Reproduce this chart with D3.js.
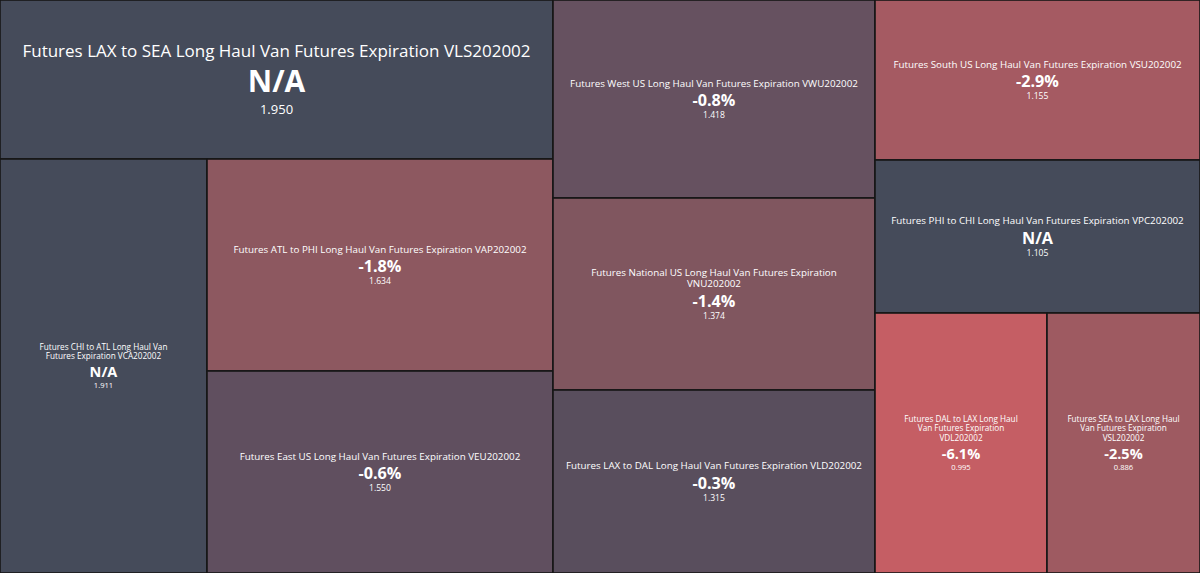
<!DOCTYPE html>
<html>
<head>
<meta charset="utf-8">
<script src="https://cdn.jsdelivr.net/npm/d3@7"></script>
<style>
  html, body { margin: 0; padding: 0; background: #1b1b1b; overflow: hidden; }
  svg { display: block; }
  text { font-family: "Segoe UI", "Open Sans", sans-serif; fill: #ffffff; }
</style>
</head>
<body>
<div id="chart"></div>
<script>
// Contracts, last price and change in percent (null = no change available)
const contracts = [
  'Futures LAX to SEA Long Haul Van Futures Expiration VLS202002',
  'Futures CHI to ATL Long Haul Van Futures Expiration VCA202002',
  'Futures ATL to PHI Long Haul Van Futures Expiration VAP202002',
  'Futures East US Long Haul Van Futures Expiration VEU202002',
  'Futures West US Long Haul Van Futures Expiration VWU202002',
  'Futures National US Long Haul Van Futures Expiration VNU202002',
  'Futures LAX to DAL Long Haul Van Futures Expiration VLD202002',
  'Futures South US Long Haul Van Futures Expiration VSU202002',
  'Futures PHI to CHI Long Haul Van Futures Expiration VPC202002',
  'Futures DAL to LAX Long Haul Van Futures Expiration VDL202002',
  'Futures SEA to LAX Long Haul Van Futures Expiration VSL202002'
];
const prices = [1.950, 1.911, 1.634, 1.550, 1.418, 1.374, 1.315, 1.155, 1.105, 0.995, 0.886];
const changes = [null, null, -1.8, -0.6, -0.8, -1.4, -0.3, -2.9, null, -6.1, -2.5];

const width = 1200, height = 573;

const svg = d3.select('#chart').append('svg')
    .attr('width', width)
    .attr('height', height);

// Colour by change: slate for no change, towards red for bigger drops
const colorScale = d3.scaleLinear()
    .domain([-6.1, -2.7, -1.6, -0.7, 0])
    .range(['#c55e64', '#a35a62', '#88585f', '#625060', '#524c5b'])
    .clamp(true);
const naColor = '#454b5a';

// Text sizes depend on how wide a tile is
const tierScale = d3.scaleThreshold()
    .domain([250, 450])
    .range([
      {title: 8.2, titleLH: 9.2, pct: 14.5, pctGap: 18, val: 7.6, valGap: 11, wrap: 0.745},
      {title: 9.8, titleLH: 10.8, pct: 16.2, pctGap: 19.5, val: 8.6, valGap: 12, wrap: 0.923},
      {title: 17, titleLH: 22, pct: 30, pctGap: 35, val: 13, valGap: 22, wrap: 0.99}
    ]);

const pctFormat = d3.formatLocale({decimal: '.', thousands: ',', grouping: [3], currency: ['$', ''], minus: '-'})
    .format('.1f');
const priceFormat = d3.format('.3f');

const ratio = (a, b) => Math.max(a / b, b / a);

// Lay one tile after the other, cutting across the longer side
function peel(nodes, value, x0, y0, x1, y1) {
  nodes.forEach((node, j) => {
    if (j === nodes.length - 1) {
      node.x0 = x0; node.y0 = y0; node.x1 = x1; node.y1 = y1;
      return;
    }
    const t = node.value / value;
    if (x1 - x0 > y1 - y0) {
      const xk = x0 + (x1 - x0) * t;
      node.x0 = x0; node.y0 = y0; node.x1 = xk; node.y1 = y1;
      x0 = xk;
    } else {
      const yk = y0 + (y1 - y0) * t;
      node.x0 = x0; node.y0 = y0; node.x1 = x1; node.y1 = yk;
      y0 = yk;
    }
    value -= node.value;
  });
}

// Split a wide area into columns as square as possible, then peel inside each
function stripTile(parent, x0, y0, x1, y1) {
  const nodes = parent.children;
  let i = 0, rest = parent.value;
  while (i < nodes.length) {
    const w = x1 - x0, h = y1 - y0;
    if (w <= h || i === nodes.length - 1) {
      peel(nodes.slice(i), rest, x0, y0, x1, y1);
      return;
    }
    let bestK = i + 1, bestSum = nodes[i].value, bestScore = Infinity, sum = 0;
    for (let k = i; k < nodes.length - 1; k++) {
      sum += nodes[k].value;
      const cw = w * sum / rest, rw = w - cw;
      const score = Math.max(ratio(cw, h), ratio(rw, h));
      if (score < bestScore) { bestScore = score; bestK = k + 1; bestSum = sum; }
    }
    const xk = x0 + w * bestSum / rest;
    peel(nodes.slice(i, bestK), bestSum, x0, y0, xk, y1);
    x0 = xk; rest -= bestSum; i = bestK;
  }
}

const rows = contracts.map((name, i) => ({name, price: prices[i], change: changes[i]}));

const root = d3.hierarchy({children: rows})
    .sum(d => d.price || 0)
    .sort((a, b) => b.value - a.value);

d3.treemap()
    .size([width, height])
    .tile(stripTile)
    .round(true)(root);

const measure = svg.append('text').attr('visibility', 'hidden');

function wrapWords(text, size, maxWidth) {
  measure.attr('font-size', size);
  const words = text.split(' ');
  const lines = [];
  let line = words[0];
  words.slice(1).forEach(word => {
    const test = line + ' ' + word;
    measure.text(test);
    if (measure.node().getComputedTextLength() > maxWidth) {
      lines.push(line);
      line = word;
    } else {
      line = test;
    }
  });
  lines.push(line);
  return lines;
}

const cell = svg.selectAll('.cell')
    .data(root.leaves())
  .join('g')
    .attr('class', 'cell')
    .attr('transform', d => `translate(${d.x0},${d.y0})`);

cell.append('rect')
    .attr('width', d => d.x1 - d.x0)
    .attr('height', d => d.y1 - d.y0)
    .attr('fill', d => d.data.change == null ? naColor : colorScale(d.data.change))
    .attr('stroke', '#161616')
    .attr('stroke-width', 1.6);

cell.each(function(d) {
  const g = d3.select(this);
  const w = d.x1 - d.x0, h = d.y1 - d.y0;
  const tier = tierScale(w);
  const lines = wrapWords(d.data.name, tier.title, w * tier.wrap);

  // baselines relative to the first title line
  const lastTitle = (lines.length - 1) * tier.titleLH;
  const pctBase = lastTitle + tier.pctGap;
  const valBase = pctBase + tier.valGap;
  const top = -0.72 * tier.title;
  const b0 = h / 2 - (top + valBase) / 2;

  g.selectAll('.title')
      .data(lines)
    .join('text')
      .attr('class', 'title')
      .attr('x', w / 2)
      .attr('y', (l, i) => b0 + i * tier.titleLH)
      .attr('text-anchor', 'middle')
      .attr('font-size', tier.title)
      .text(l => l);

  g.append('text')
      .attr('x', w / 2)
      .attr('y', b0 + pctBase)
      .attr('text-anchor', 'middle')
      .attr('font-size', tier.pct)
      .attr('font-weight', 'bold')
      .text(d.data.change == null ? 'N/A' : pctFormat(d.data.change) + '%');

  g.append('text')
      .attr('x', w / 2)
      .attr('y', b0 + valBase)
      .attr('text-anchor', 'middle')
      .attr('font-size', tier.val)
      .text(priceFormat(d.data.price));
});

measure.remove();
</script>
</body>
</html>
